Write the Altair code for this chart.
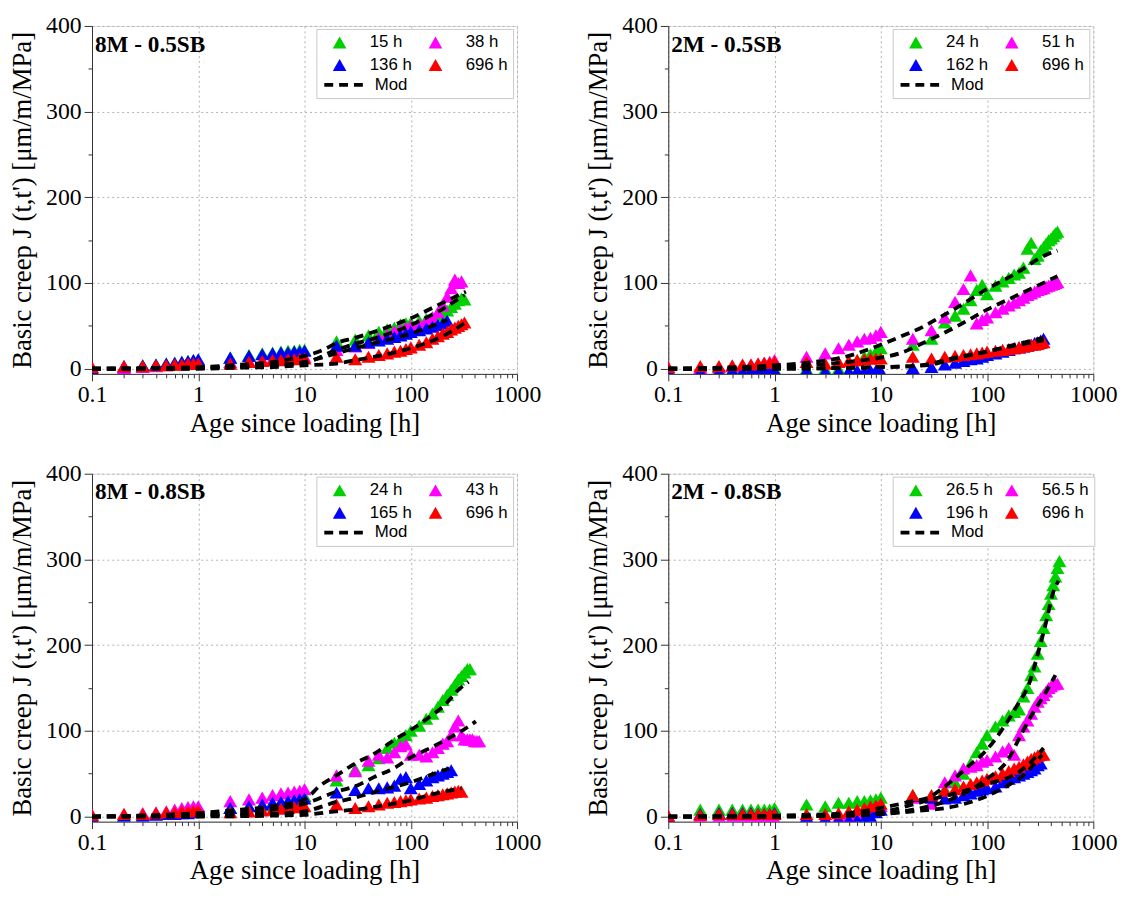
import altair as alt
import pandas as pd

# measurement times (h) shared by all test series
T = [0.1, 0.2, 0.3, 0.4, 0.5, 0.6, 0.7, 0.8, 0.9, 1,
     2, 3, 4, 5, 6, 7, 8, 9, 10,
     20, 30, 40, 50, 60, 70, 80, 90, 100,
     120, 140, 160, 180, 200, 220, 240, 260, 280, 300, 320, 340, 360, 380, 400, 420, 440, 460, 480]

# ---------------- 8M - 0.5SB ----------------
P1_LABELS = ["15 h", "38 h", "136 h", "696 h"]
P1_G = [0, 2, 4, 5, 6, 7, 8, 9, 10, 10, 13, 16, 18, 19, 20, 21, 21, 22, 22,
        32, 34, 39, 43, 46, 48, 52, 53, 54, 56, 58, 60, 62, 64, 68, 72, 76, 80, 82, 81]
P1_M = [0, 1, 2, 3, 4, 5, 5, 6, 6, 7, 8, 9, 10, 11, 12, 12, 13, 13, 14,
        22, 26, 30, 36, 40, 44, 46, 48, 50, 52, 56, 60, 66, 74, 84, 94, 104, 100, 102]
P1_B = [0, 3, 4, 5, 6, 7, 8, 9, 10, 11, 13, 15, 17, 18, 19, 19, 20, 20, 21,
        27, 27, 31, 33, 35, 37, 39, 41, 43, 45, 47, 49, 51, 53, 56]
P1_R = [2, 3, 3, 4, 4, 5, 5, 6, 6, 6, 6, 8, 9, 10, 10, 11, 11, 12, 12,
        14, 11, 14, 16, 18, 20, 21, 23, 25, 28, 31, 35, 38, 41, 43, 46, 48, 50, 52, 54]
P1_MOD_T = [[0.1, 1, 2, 5, 10, 15, 20, 30, 50, 100, 200, 330],
            [0.1, 1, 2, 5, 10, 20, 30, 50, 100, 200, 320],
            [0.1, 1, 2, 5, 10, 20, 30, 50, 100, 220],
            [0.1, 1, 2, 5, 10, 20, 30, 50, 100, 200, 320]]
P1_MOD_J = [[0, 2, 4, 8, 15, 22, 30, 36, 45, 59, 77, 90],
            [0, 1, 2, 4, 7, 22, 29, 37, 51, 70, 86],
            [0, 1, 2, 4, 8, 18, 24, 31, 41, 57],
            [0, 0, 1, 2, 4, 6, 10, 15, 24, 38, 53]]

# ---------------- 2M - 0.5SB ----------------
P2_LABELS = ["24 h", "51 h", "162 h", "696 h"]
P2_G = [0, -1, 0, -1, 0, -1, 0, -1, 0, 0, 0, 0, 0, -2, 10, 14, 17, 20, 24,
        28, 35, 54, 62, 70, 80, 92, 98, 87,
        97, 102, 106, 110, 112, 118, 140, 147, 128, 132, 138, 142, 146, 150, 152, 155, 158, 160]
P2_M = [0, 1, 2, 3, 4, 5, 6, 7, 8, 10, 14, 18, 24, 28, 32, 35, 36, 39, 43,
        35, 45, 60, 78, 93, 109, 53, 57, 60,
        66, 70, 74, 77, 80, 83, 86, 88, 90, 92, 93, 94, 96, 97, 98, 99, 100, 101]
P2_B = [-2, -3, -3, -2, -3, -2, -3, -2, -3, -2, -2, -3, -3, -3, -2, -3, -2, -2, -3,
        1, 2, 5, 7, 9, 11, 12, 14, 16, 18, 20, 22, 24, 25, 26, 27, 28, 30, 31, 33, 35]
P2_R = [2, 3, 3, 4, 5, 5, 6, 7, 7, 8, 8, 6, 8, 9, 10, 11, 12, 12, 12,
        14, 12, 14, 15, 16, 17, 18, 19, 20, 21, 22, 23, 24, 25, 26, 27, 28, 28, 29, 30, 31]
P2_MOD_T = [[0.1, 1, 2, 5, 10, 15, 25, 36, 53, 100, 180, 360, 460],
            [0.1, 1, 2, 5, 10, 15, 25, 53, 100, 180, 460],
            [0.1, 1, 5, 10, 20, 30, 50, 100, 180, 340],
            [0.1, 1, 5, 10, 20, 30, 50, 100, 180, 340]]
P2_MOD_J = [[0, 4, 7, 15, 28, 37, 49, 60, 72, 93, 110, 133, 138],
            [0, 2, 4, 8, 13, 18, 30, 50, 69, 84, 108],
            [0, 0, 1, 2, 3, 5, 12, 20, 28, 36],
            [0, 0, 1, 2, 3, 6, 13, 20, 27, 33]]

# ---------------- 8M - 0.8SB ----------------
P3_LABELS = ["24 h", "43 h", "165 h", "696 h"]
P3_G = [0, 1, 2, 3, 4, 5, 6, 7, 8, 9, 10, 12, 13, 15, 17, 18, 19, 20, 24,
        42, 55, 60, 68, 80, 86, 90, 95, 100,
        106, 114, 120, 128, 136, 142, 148, 154, 160, 164, 168, 172, 172]
P3_M = [2, 3, 4, 5, 6, 8, 10, 11, 12, 12, 18, 20, 22, 25, 27, 28, 29, 30, 32,
        48, 53, 65, 72, 69, 75, 82, 84, 72,
        72, 70, 75, 80, 85, 88, 95, 105, 112, 95, 90, 90, 90, 90, 88, 88, 88]
P3_B = [0, 1, 1, 2, 3, 3, 4, 4, 5, 6, 10, 12, 14, 16, 17, 18, 19, 20, 21,
        28, 31, 33, 33, 34, 36, 44, 46, 33, 38, 42, 46, 48, 50, 52, 54]
P3_R = [2, 3, 3, 4, 5, 5, 6, 6, 7, 7, 5, 6, 7, 8, 9, 10, 11, 12, 12,
        14, 10, 12, 14, 16, 17, 18, 19, 20, 21, 22, 24, 25, 26, 27, 28, 29, 30, 29]
P3_MOD_T = [[0.1, 1, 2, 5, 10, 14, 20, 31, 45, 71, 100, 150, 200, 300, 350],
            [0.1, 1, 5, 10, 20, 31, 45, 71, 100, 153, 232, 330, 410],
            [0.1, 1, 5, 10, 20, 30, 50, 100, 150, 230],
            [0.1, 1, 5, 10, 20, 30, 50, 100, 150, 300]]
P3_MOD_J = [[0, 4, 7, 12, 20, 36, 48, 63, 73, 90, 101, 116, 128, 151, 157],
            [0, 2, 8, 15, 29, 36, 46, 57, 69, 80, 92, 103, 111],
            [0, 1, 3, 6, 17, 22, 30, 40, 48, 56],
            [0, 0, 1, 2, 6, 8, 12, 19, 25, 33]]

# ---------------- 2M - 0.8SB ----------------
P4_LABELS = ["26.5 h", "56.5 h", "196 h", "696 h"]
P4_G = [0, 8, 8, 8, 8, 8, 8, 8, 8, 10, 14, 12, 16, 16, 18, 18, 19, 20, 22,
        25, 24, 32, 40, 50, 62, 75, 85, 95,
        105, 112, 118, 122, 125, 140, 150, 165, 175, 190, 205, 220, 235, 248, 260, 270, 280, 290, 298]
P4_M = [0, 0, 0, -1, -1, -1, -2, -2, -2, -2, -2, -2, -1, 0, 2, 5, 8, 10, 12,
        22, 15, 40, 48, 56, 58, 60, 64, 66,
        70, 76, 80, 72, 95, 105, 112, 120, 128, 134, 138, 142, 146, 150, 152, 154, 155, 155]
P4_B = [0, 3, 4, 4, 4, 4, 3, 3, 3, 4, 0, -2, -3, -4, -4, -3, 0, 5, 8,
        24, 22, 21, 22, 25, 27, 30, 32, 33, 35, 40, 44, 46, 48, 50, 52, 54, 56, 60, 62]
P4_R = [1, 2, 3, 3, 3, 3, 3, 3, 3, 3, 3, 3, 4, 6, 8, 10, 12, 13, 15,
        25, 25, 30, 32, 35, 38, 40, 42, 44, 47, 50, 53, 56, 58, 61, 64, 67, 69, 71, 72, 72]
P4_MOD_T = [[0.1, 1, 2, 5, 10, 20, 28, 40, 66, 98, 143, 195, 247, 310, 360, 420, 470],
            [0.1, 1, 5, 10, 20, 48, 105, 155, 210, 265, 350, 440],
            [0.1, 1, 5, 10, 20, 50, 100, 150, 210, 300, 330],
            [0.1, 1, 5, 10, 20, 30, 50, 100, 200, 300, 340]]
P4_MOD_J = [[0, 1, 2, 4, 10, 18, 22, 35, 58, 77, 104, 131, 154, 196, 227, 262, 275],
            [0, 0, 1, 3, 8, 21, 46, 65, 96, 119, 143, 165],
            [0, 0, 1, 3, 6, 12, 24, 35, 46, 66, 72],
            [0, 0, 2, 5, 14, 20, 27, 38, 52, 72, 80]]

PANELS = [
    ("8M - 0.5SB", P1_LABELS, [P1_G, P1_M, P1_B, P1_R], P1_MOD_T, P1_MOD_J, 5),
    ("2M - 0.5SB", P2_LABELS, [P2_G, P2_M, P2_B, P2_R], P2_MOD_T, P2_MOD_J, 5),
    ("8M - 0.8SB", P3_LABELS, [P3_G, P3_M, P3_B, P3_R], P3_MOD_T, P3_MOD_J, 5),
    ("2M - 0.8SB", P4_LABELS, [P4_G, P4_M, P4_B, P4_R], P4_MOD_T, P4_MOD_J, 0),
]
COLORS = ["#00d000", "#ff00ff", "#0000ff", "#ff0000"]
# legend is filled column by column: column 1 = green, blue; column 2 = magenta, red
LEG_ORDER = [0, 2, 1, 3]

W, H = 430, 352
SERIF = "Liberation Serif"
SANS = "Liberation Sans"

XTICKS = [round(m * 10 ** e, 6) for e in range(-1, 3) for m in range(1, 10)] + [1000]
DEC = "abs(log(datum.value)/LN10 - round(log(datum.value)/LN10)) < 0.001"
YTICKS = list(range(0, 401, 50))
HUN = "datum.value % 100 == 0"

axis_common = dict(
    labelFont=SERIF, labelFontSize=24, labelColor="black",
    titleFont=SERIF, titleFontSize=27, titleFontWeight="normal", titleColor="black",
    tickColor="#333", domainColor="#333", gridColor="#b0b0b0", gridDash=[2, 3],
)

xaxis = alt.Axis(
    values=XTICKS,
    labelExpr=DEC + " ? format(datum.value, '~g') : ''",
    tickSize={"condition": {"test": DEC, "value": 7}, "value": 4},
    gridOpacity={"condition": {"test": DEC, "value": 1}, "value": 0},
    labelPadding=2, titlePadding=4, labelFlush=False, labelOverlap=False,
    **axis_common,
)
yaxis = alt.Axis(
    values=YTICKS,
    labelExpr=HUN + " ? datum.label : ''",
    tickSize={"condition": {"test": HUN, "value": 8}, "value": 4},
    gridOpacity={"condition": {"test": HUN, "value": 1}, "value": 0},
    labelPadding=3, titlePadding=9, labelFlush=False, labelOverlap=False,
    **axis_common,
)


def panel(name, labels, series, mod_t, mod_j, colpad):
    rows = []
    for lab, vals in zip(labels, series):
        for t, v in zip(T, vals):
            rows.append({"t": t, "J": v, "series": lab})
    df = pd.DataFrame(rows)
    mrows = []
    for k, (mt, mj) in enumerate(zip(mod_t, mod_j)):
        for t, v in zip(mt, mj):
            mrows.append({"t": t, "J": v, "curve": k, "m": "Mod"})
    mdf = pd.DataFrame(mrows)

    x = alt.X("t:Q", scale=alt.Scale(type="log", domain=[0.1, 1000]), axis=xaxis,
              title="Age since loading [h]")
    y = alt.Y("J:Q", scale=alt.Scale(domain=[-6, 400], nice=False, zero=False), axis=yaxis,
              title="Basic creep J (t,t') [μm/m/MPa]")

    pts = alt.Chart(df).mark_point(shape="triangle-up", filled=True, size=200, opacity=1,
                                   strokeWidth=0, clip=True).encode(
        x=x, y=y,
        color=alt.Color("series:N",
                        scale=alt.Scale(domain=[labels[i] for i in LEG_ORDER],
                                        range=[COLORS[i] for i in LEG_ORDER]),
                        legend=alt.Legend(
                            orient="none", legendX=227, legendY=3, columns=2,
                            gridAlign="each",
                            title="Mod", titleOrient="bottom", titleFontSize=17,
                            titlePadding=4, titleOpacity=0, titleLimit=40,
                            symbolType="triangle-up", symbolSize=190, symbolStrokeWidth=0,
                            labelFont=SANS, labelFontSize=17, labelColor="black",
                            labelOffset=22, columnPadding=colpad, rowPadding=5,
                            padding=5, symbolOffset=10,
                            strokeColor="#c8c8c8", fillColor="white")),
    )
    lines = alt.Chart(mdf).mark_line(color="black", strokeWidth=3.8, clip=True,
                                     interpolate="monotone").encode(
        x="t:Q", y="J:Q", detail="curve:N",
        strokeDash=alt.StrokeDash("m:N", scale=alt.Scale(domain=["Mod"], range=[[9, 6]]),
                                  legend=alt.Legend(
                                      orient="none", legendX=233, legendY=37, title=None,
                                      symbolType="stroke", symbolSize=1681,
                                      symbolStrokeWidth=3.8, symbolStrokeColor="black",
                                      labelFont=SANS, labelFontSize=17, labelColor="black",
                                      labelOffset=8, padding=0)),
    )
    tag = alt.Chart(pd.DataFrame({"lab": [name]})).mark_text(
        font=SERIF, fontWeight="bold", fontSize=23.5, align="left", baseline="alphabetic",
        color="black").encode(text="lab:N", x=alt.value(3), y=alt.value(26))
    return alt.layer(pts, lines, tag).properties(width=W, height=H)


charts = [panel(*p) for p in PANELS]
res = dict(color="independent", strokeDash="independent")
row1 = alt.hconcat(charts[0], charts[1], spacing=43).resolve_scale(**res).resolve_legend(**res)
row2 = alt.hconcat(charts[2], charts[3], spacing=43).resolve_scale(**res).resolve_legend(**res)
chart = alt.vconcat(row1, row2, spacing=24).resolve_scale(**res).resolve_legend(**res).properties(
    padding={"left": 0, "top": 0, "right": 2, "bottom": 2}
).configure_view(stroke="#333", strokeWidth=1.5).configure(background="white")

chart.save("out.html", embed_options={"renderer": "svg", "actions": False})
